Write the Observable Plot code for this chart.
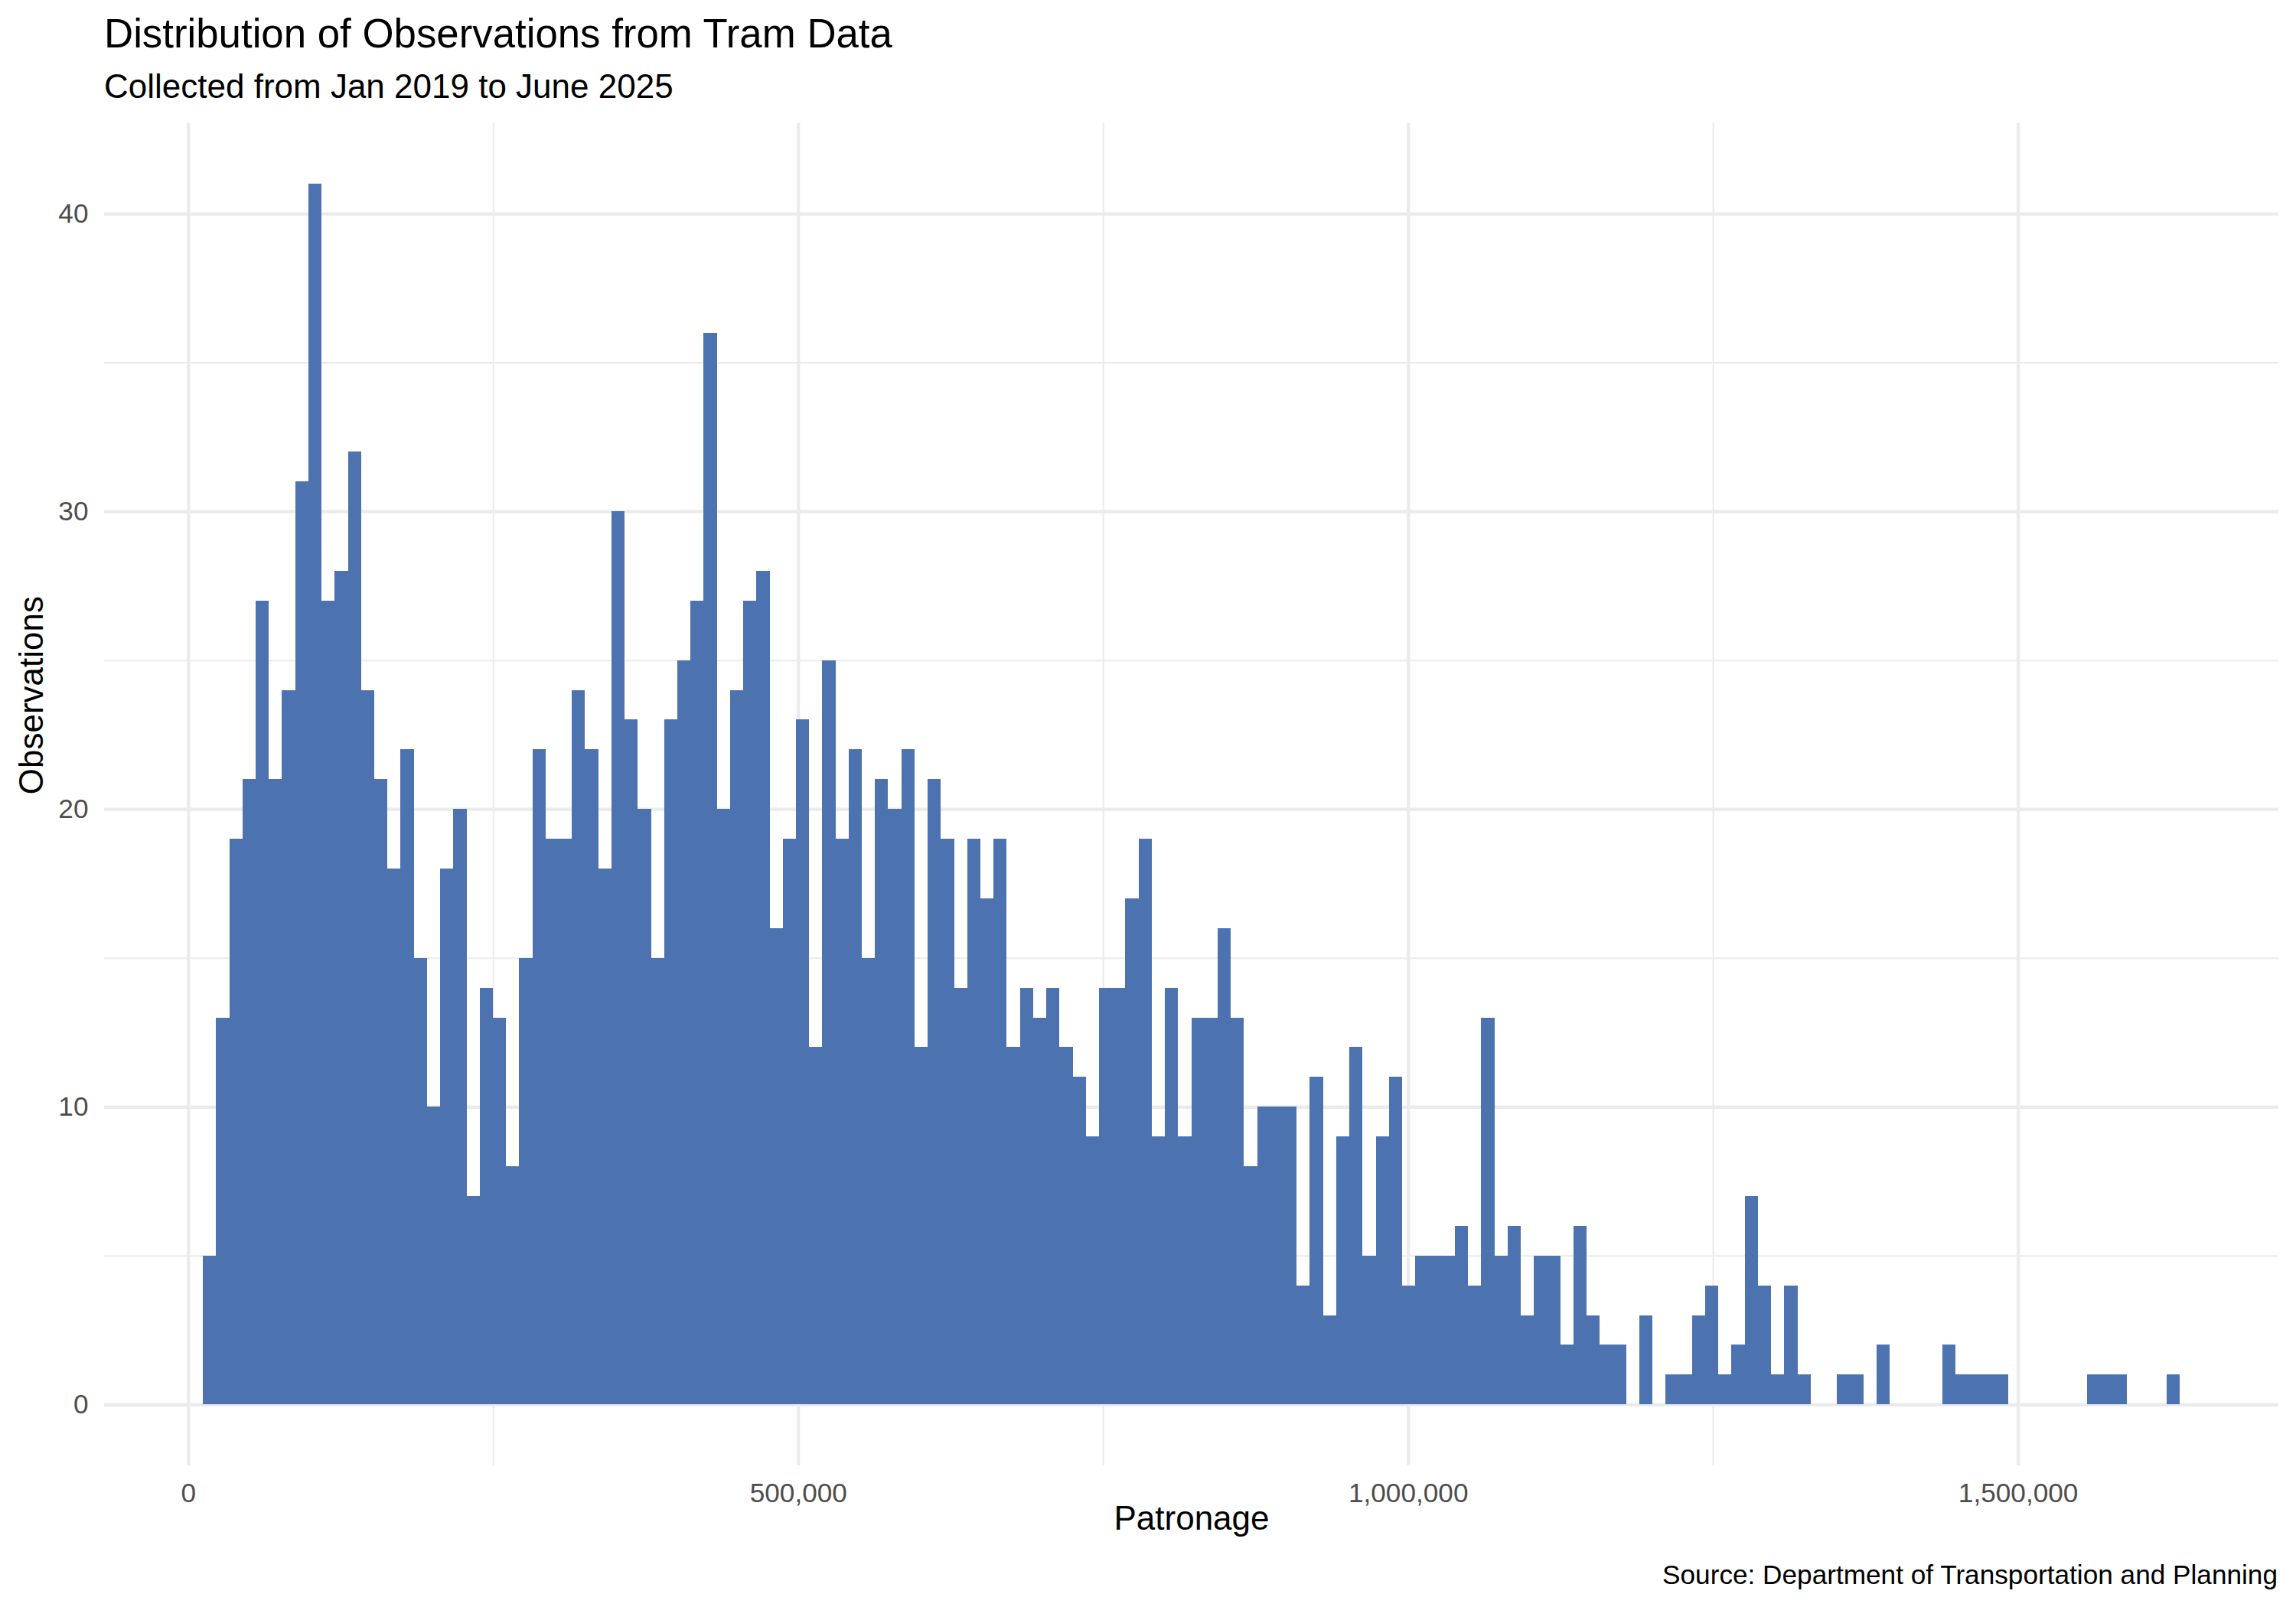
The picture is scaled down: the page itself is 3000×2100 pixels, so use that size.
<!DOCTYPE html>
<html>
<head>
<meta charset="utf-8">
<script src="https://cdn.jsdelivr.net/npm/d3@7"></script>
<script src="https://cdn.jsdelivr.net/npm/@observablehq/plot@0.6"></script>
<style>
html, body { margin: 0; padding: 0; background: #ffffff; }
body { width: 3000px; height: 2100px; overflow: hidden; font-family: "Liberation Sans", Arial, Helvetica, sans-serif; }
#header { position: relative; height: 140px; }
#title { position: absolute; left: 136px; top: 18px; font-size: 52.8px; line-height: 1; color: #000; white-space: nowrap; }
#subtitle { position: absolute; left: 136px; top: 91px; font-size: 44px; line-height: 1; color: #000; white-space: nowrap; }
#chart svg { display: block; }
#caption { font-size: 35.2px; line-height: 1; text-align: right; padding-right: 24px; color: #000; white-space: nowrap; }
</style>
</head>
<body>
<div id="header">
  <div id="title">Distribution of Observations from Tram Data</div>
  <div id="subtitle">Collected from Jan 2019 to June 2025</div>
</div>
<div id="chart"></div>
<div id="caption">Source: Department of Transportation and Planning</div>
<script>
// Histogram counts per bin (150 bins)
const counts = [
  5, 13, 19, 21, 27, 21, 24, 31, 41, 27,
  28, 32, 24, 21, 18, 22, 15, 10, 18, 20,
  7, 14, 13, 8, 15, 22, 19, 19, 24, 22,
  18, 30, 23, 20, 15, 23, 25, 27, 36, 20,
  24, 27, 28, 16, 19, 23, 12, 25, 19, 22,
  15, 21, 20, 22, 12, 21, 19, 14, 19, 17,
  19, 12, 14, 13, 14, 12, 11, 9, 14, 14,
  17, 19, 9, 14, 9, 13, 13, 16, 13, 8,
  10, 10, 10, 4, 11, 3, 9, 12, 5, 9,
  11, 4, 5, 5, 5, 6, 4, 13, 5, 6,
  3, 5, 5, 2, 6, 3, 2, 2, 0, 3,
  0, 1, 1, 3, 4, 1, 2, 7, 4, 1,
  4, 1, 0, 0, 1, 1, 0, 2, 0, 0,
  0, 0, 2, 1, 1, 1, 1, 0, 0, 0,
  0, 0, 0, 1, 1, 1, 0, 0, 0, 1
];
const binStart = 12100;   // patronage at left edge of first bin
const binWidth = 10803;   // patronage per bin

const yMajorTicks = [0, 10, 20, 30, 40];
const yMinorTicks = [5, 15, 25, 35];
const xMajorTicks = [0, 500000, 1000000, 1500000];
const xMinorTicks = [250000, 750000, 1250000];
const xTitle = "Patronage";
const yTitle = "Observations";

const bins = counts.map((c, i) => ({
  x1: binStart + i * binWidth,
  x2: binStart + (i + 1) * binWidth,
  base: 0,
  count: c
}));
const lo = bins[0].x1, hi = bins[bins.length - 1].x2;
const maxC = d3.max(counts);
const xPad = (hi - lo) * 0.05, yPad = maxC * 0.05;

const gridColor = "#EBEBEB";
const chart = Plot.plot({
  width: 3000,
  height: 1900,
  marginTop: 20.5,
  marginLeft: 136,
  marginRight: 23,
  marginBottom: 125,
  style: { fontFamily: '"Liberation Sans", Arial, Helvetica, sans-serif', background: "#ffffff" },
  x: { domain: [lo - xPad, hi + xPad], label: null },
  y: { domain: [-yPad, maxC + yPad], label: null },
  marks: [
    Plot.ruleY(yMinorTicks, { stroke: gridColor, strokeWidth: 2.1 }),
    Plot.ruleX(xMinorTicks, { stroke: gridColor, strokeWidth: 2.1 }),
    Plot.ruleY(yMajorTicks, { stroke: gridColor, strokeWidth: 4.3 }),
    Plot.ruleX(xMajorTicks, { stroke: gridColor, strokeWidth: 4.3 }),
    Plot.rect(bins.filter(d => d.count > 0), {
      x1: "x1", x2: "x2", y1: "base", y2: "count",
      fill: "#4C72B0", shapeRendering: "crispEdges"
    }),
    Plot.axisY(yMajorTicks, {
      tickSize: 0, tickPadding: 21, fontSize: 35.2, color: "#4D4D4D", label: null
    }),
    Plot.axisX(xMajorTicks, {
      tickSize: 0, tickPadding: 22, fontSize: 35.2, color: "#4D4D4D",
      tickFormat: d3.format(","), label: null
    }),
    Plot.text([xTitle], { frameAnchor: "bottom", dy: 83, fontSize: 44, fill: "#000000" }),
    Plot.text([yTitle], { frameAnchor: "left", rotate: -90, dx: -95, fontSize: 44, fill: "#000000" })
  ]
});
document.getElementById("chart").appendChild(chart);
</script>
</body>
</html>
